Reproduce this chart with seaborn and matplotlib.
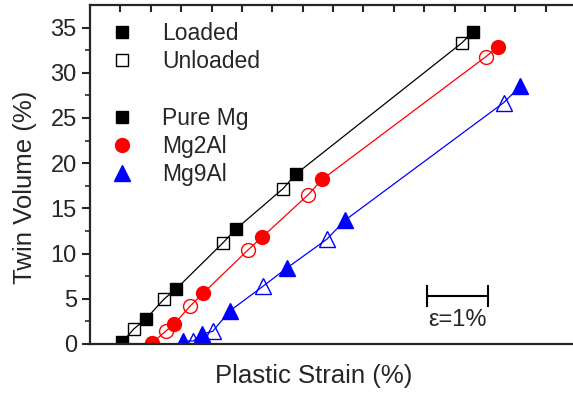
import matplotlib
matplotlib.use("Agg")
import matplotlib.pyplot as plt
from matplotlib.lines import Line2D
import seaborn as sns
import pandas as pd

# Pure Mg
mg_load_x = [0.53, 0.92, 1.42, 2.40, 3.39, 6.30]
mg_load_y = [0.2, 2.77, 6.1, 12.7, 18.8, 34.5]
mg_unload_x = [0.72, 1.22, 2.19, 3.18, 6.12]
mg_unload_y = [1.66, 4.98, 11.2, 17.2, 33.3]

# Mg2Al
mg2_load_x = [1.02, 1.38, 1.86, 2.83, 3.82, 6.72]
mg2_load_y = [0.1, 2.2, 5.6, 11.8, 18.2, 32.9]
mg2_unload_x = [1.25, 1.65, 2.60, 3.59, 6.52]
mg2_unload_y = [1.44, 4.2, 10.4, 16.5, 31.8]

# Mg9Al
mg9_load_x = [1.53, 1.84, 2.30, 3.24, 4.20, 7.08]
mg9_load_y = [0.33, 1.1, 3.65, 8.4, 13.7, 28.5]
mg9_unload_x = [1.70, 2.02, 2.85, 3.90, 6.81]
mg9_unload_y = [0.33, 1.4, 6.4, 11.6, 26.7]

sns.set_theme(style="ticks")
plt.rcParams["font.family"] = ["Liberation Sans", "DejaVu Sans"]

fig = plt.figure(figsize=(5.73, 3.96), dpi=100)
ax = fig.add_axes([90 / 573, 52 / 396, 486 / 573, 339 / 396])

series = [
    ("Pure Mg", "s", "black", mg_load_x, mg_load_y, mg_unload_x, mg_unload_y, 9),
    ("Mg2Al", "o", "red", mg2_load_x, mg2_load_y, mg2_unload_x, mg2_unload_y, 10),
    ("Mg9Al", "^", "blue", mg9_load_x, mg9_load_y, mg9_unload_x, mg9_unload_y, 11),
]

for name, mk, c, lx, ly, ux, uy, ms in series:
    df = pd.DataFrame({"x": lx + ux, "y": ly + uy}).sort_values("y")
    sns.lineplot(data=df, x="x", y="y", sort=False, estimator=None,
                 color=c, lw=0.9, ax=ax)
    sns.lineplot(x=ux, y=uy, sort=False, estimator=None, linestyle="",
                 marker=mk, markersize=ms, markerfacecolor="none",
                 markeredgecolor=c, markeredgewidth=1.0, color=c, ax=ax)
    sns.lineplot(x=lx, y=ly, sort=False, estimator=None, linestyle="",
                 marker=mk, markersize=ms, markerfacecolor=c,
                 markeredgecolor=c, markeredgewidth=1.0, color=c, ax=ax)

# scale bar
ax.errorbar(6.05, 5.3, xerr=0.5, color="black", lw=1.5, capsize=8,
            capthick=1.5)
ax.text(6.05, 2.6, "ε=1%", ha="center", va="center", fontsize=17)

ax.set_xlim(0, 8)
ax.set_ylim(0, 37.5)
ax.set_yticks([0, 5, 10, 15, 20, 25, 30, 35])
ax.set_yticks([2.5, 7.5, 12.5, 17.5, 22.5, 27.5, 32.5], minor=True)
ax.tick_params(axis="y", which="major", direction="out", length=6,
               width=1.5, labelsize=17, right=True)
ax.tick_params(axis="y", which="minor", direction="out", length=3.5,
               width=1.2, left=True)
ax.set_xticks([0.5 * i for i in range(1, 16)])
ax.tick_params(axis="x", which="major", direction="in", length=5, width=1.5,
               bottom=False, top=True, labelbottom=False, labeltop=False)
for s in ax.spines.values():
    s.set_linewidth(1.6)
    s.set_visible(True)

ax.set_xlabel("Plastic Strain (%)", fontsize=18.5)
ax.set_ylabel("Twin Volume (%)", fontsize=18.5)
ax.xaxis.set_label_coords((314 - 90) / 486, -0.058)
ax.yaxis.set_label_coords(-0.110, (344 - 187) / 339)

handles = [
    Line2D([], [], ls="", marker="s", ms=9, color="black"),
    Line2D([], [], ls="", marker="s", ms=9, mfc="none", mec="black", mew=1.0),
    Line2D([], [], ls="", marker=""),
    Line2D([], [], ls="", marker="s", ms=9, color="black"),
    Line2D([], [], ls="", marker="o", ms=10, color="red"),
    Line2D([], [], ls="", marker="^", ms=11, color="blue"),
]
labels = ["Loaded", "Unloaded", " ", "Pure Mg", "Mg2Al", "Mg9Al"]
ax.legend(handles, labels, loc="upper left", frameon=False, fontsize=16.5,
          bbox_to_anchor=((99 - 90) / 486, (344 - 22) / 339),
          borderpad=0, borderaxespad=0, handletextpad=0.75,
          labelspacing=0.23, handlelength=2.0)

plt.savefig("out.png", dpi=100)
